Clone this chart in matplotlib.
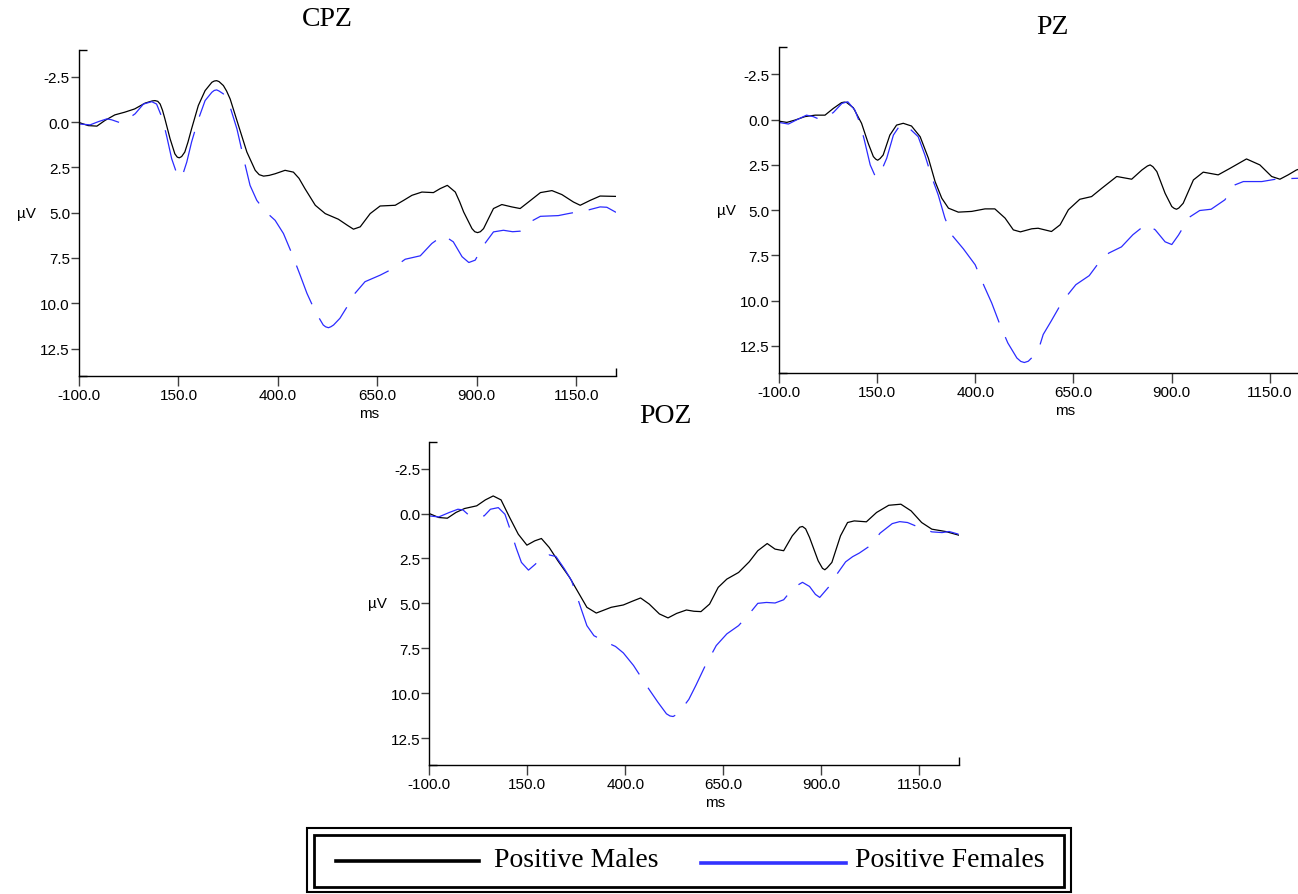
import matplotlib
matplotlib.use("Agg")
import matplotlib.pyplot as plt
from matplotlib.patches import Rectangle
from matplotlib.lines import Line2D
from matplotlib.ticker import FormatStrFormatter

# ---------------- ERP grand averages (ms, µV; negative plotted up) ----------------
cpz_male_ms = [-100, -77, -55, -35, -10, 15, 40, 66, 84, 91, 98, 104, 110, 116, 129, 141, 147,
               152, 158, 166, 174, 183, 200, 217, 234, 240, 246, 252, 263, 271, 280, 301, 322,
               343, 353, 364, 378, 393, 418, 439, 453, 468, 494, 519, 552, 575, 590, 607, 632,
               657, 695, 716, 737, 762, 791, 808, 826, 846, 857, 867, 888, 895, 902, 909, 917,
               930, 942, 963, 988, 1009, 1030, 1060, 1089, 1114, 1143, 1160, 1185, 1210, 1250]
cpz_male_uv = [0.02, 0.19, 0.22, -0.09, -0.40, -0.55, -0.73, -1.05, -1.17, -1.19, -1.15, -1.00,
               -0.65, -0.18, 0.92, 1.75, 1.93, 1.97, 1.90, 1.65, 1.10, 0.37, -0.92, -1.74,
               -2.20, -2.27, -2.29, -2.24, -2.02, -1.72, -1.28, 0.19, 1.65, 2.66, 2.90, 2.98,
               2.94, 2.85, 2.66, 2.76, 3.10, 3.67, 4.59, 5.05, 5.36, 5.70, 5.91, 5.78, 5.05,
               4.63, 4.59, 4.32, 4.04, 3.86, 3.89, 3.67, 3.49, 3.86, 4.40, 4.96, 5.88, 6.05,
               6.10, 6.05, 5.88, 5.30, 4.77, 4.55, 4.68, 4.77, 4.41, 3.89, 3.78, 4.00, 4.41,
               4.59, 4.32, 4.08, 4.10]

cpz_female_ms = [-100, -72, -51, -30, -18, 7, 41, 62, 83, 95, 110, 121, 133, 146, 150, 154,
                 160, 171, 183, 199, 217, 234, 240, 246, 252, 263, 280, 297, 318, 330, 347, 368,
                 393, 414, 435, 456, 473, 494, 514, 520, 527, 533, 540, 556, 582, 590, 619, 657,
                 682, 720, 758, 787, 816, 841, 863, 880, 896, 917, 942, 967, 990, 1009, 1034,
                 1060, 1105, 1130, 1152, 1177, 1210, 1227, 1250]
cpz_female_uv = [0.10, 0.15, -0.03, -0.18, -0.13, 0.06, -0.46, -1.00, -1.13, -1.00, -0.18,
                 0.83, 2.02, 2.85, 3.02, 3.08, 2.95, 2.20, 1.10, -0.09, -1.19, -1.65, -1.75,
                 -1.78, -1.72, -1.56, -0.83, 0.37, 2.39, 3.49, 4.32, 4.92, 5.42, 6.15, 7.25,
                 8.45, 9.45, 10.46, 11.20, 11.30, 11.35, 11.30, 11.20, 10.83, 9.91, 9.55, 8.81,
                 8.45, 8.17, 7.57, 7.38, 6.70, 6.24, 6.61, 7.43, 7.75, 7.62, 6.80, 6.06, 5.97,
                 6.05, 6.02, 5.51, 5.20, 5.16, 5.05, 4.96, 4.87, 4.68, 4.70, 4.98]

pz_male_ms = [-100, -79, -58, -33, -7, 18, 39, 60, 67, 73, 90, 111, 128, 141, 147, 152, 158,
              166, 183, 200, 217, 238, 260, 281, 298, 315, 332, 357, 391, 425, 450, 476, 497,
              515, 544, 560, 594, 616, 637, 666, 696, 722, 760, 798, 824, 838, 845, 852, 862,
              883, 900, 906, 912, 918, 929, 955, 980, 1018, 1048, 1090, 1124, 1154, 1175,
              1196, 1217, 1250]
pz_male_uv = [0.08, 0.15, 0.02, -0.17, -0.25, -0.25, -0.62, -0.94, -0.97, -0.95, -0.66, 0.20,
              1.31, 2.04, 2.18, 2.24, 2.15, 1.95, 0.85, 0.30, 0.20, 0.35, 0.94, 2.13, 3.42,
              4.34, 4.89, 5.11, 5.07, 4.93, 4.93, 5.44, 6.09, 6.20, 6.03, 6.00, 6.18, 5.81,
              4.98, 4.40, 4.25, 3.79, 3.14, 3.29, 2.78, 2.56, 2.50, 2.60, 2.87, 4.07, 4.80,
              4.90, 4.95, 4.88, 4.62, 3.33, 2.90, 3.05, 2.69, 2.17, 2.50, 3.14, 3.29, 3.05,
              2.78, 2.55]

pz_female_ms = [-100, -75, -55, -29, -12, 4, 39, 61, 76, 94, 107, 118, 133, 145, 150, 155,
                175, 192, 209, 222, 255, 272, 289, 306, 323, 340, 370, 400, 423, 442, 463, 483,
                506, 516, 525, 535, 548, 565, 573, 593, 622, 656, 690, 718, 740, 772, 801, 835,
                858, 883, 900, 917, 944, 971, 1000, 1035, 1061, 1082, 1129, 1167, 1218, 1250]
pz_female_uv = [0.15, 0.24, 0.02, -0.25, -0.17, -0.02, -0.39, -0.90, -0.99, -0.53, 0.20,
                1.12, 2.50, 3.09, 3.14, 3.15, 2.13, 0.85, 0.30, 0.26, 0.94, 1.95, 3.14, 4.16,
                5.44, 6.36, 7.14, 8.02, 9.21, 10.13, 11.33, 12.34, 13.17, 13.36, 13.42, 13.35,
                13.07, 12.43, 11.87, 11.14, 10.04, 9.12, 8.62, 7.80, 7.37, 7.03, 6.36, 5.77,
                6.09, 6.75, 6.90, 6.38, 5.40, 5.02, 4.95, 4.43, 3.60, 3.42, 3.42, 3.28, 3.24,
                3.24]

poz_male_ms = [-100, -76, -54, -32, -10, 21, 43, 63, 83, 105, 127, 149, 169, 186, 206, 228,
               258, 280, 302, 326, 364, 395, 417, 439, 461, 487, 509, 531, 556, 575, 593, 615,
               637, 659, 689, 716, 738, 762, 782, 804, 826, 845, 852, 860, 870, 892, 903, 909,
               915, 927, 949, 967, 984, 1015, 1041, 1072, 1103, 1129, 1156, 1182, 1217, 1250]
poz_male_uv = [0.00, 0.22, 0.26, -0.06, -0.28, -0.43, -0.76, -0.98, -0.76, 0.22, 1.15, 1.76,
               1.52, 1.39, 1.89, 2.63, 3.56, 4.39, 5.22, 5.54, 5.22, 5.09, 4.89, 4.70, 5.04,
               5.59, 5.81, 5.56, 5.37, 5.44, 5.46, 5.04, 4.11, 3.65, 3.28, 2.69, 2.07, 1.67,
               1.98, 2.07, 1.24, 0.76, 0.72, 0.85, 1.33, 2.63, 3.05, 3.13, 3.02, 2.72, 1.24,
               0.50, 0.41, 0.46, -0.06, -0.46, -0.52, -0.15, 0.50, 0.87, 1.00, 1.20]

poz_female_ms = [-100, -76, -49, -27, -14, 3, 40, 56, 76, 93, 109, 122, 135, 153, 171, 184,
                 205, 223, 245, 263, 276, 289, 302, 320, 355, 375, 395, 421, 443, 461, 483,
                 505, 514, 522, 530, 544, 562, 580, 602, 632, 659, 689, 716, 738, 760, 782,
                 804, 830, 852, 870, 885, 896, 918, 940, 962, 980, 997, 1024, 1050, 1081, 1100,
                 1120, 1156, 1182, 1208, 1226, 1250]
poz_female_uv = [0.13, 0.19, -0.06, -0.24, -0.20, 0.13, 0.13, -0.24, -0.33, 0.04, 1.06,
                 1.94, 2.72, 3.15, 2.81, 2.44, 2.30, 2.39, 3.09, 3.74, 4.57, 5.41, 6.24, 6.80,
                 7.20, 7.40, 7.76, 8.46, 9.20, 9.80, 10.50, 11.15, 11.27, 11.30, 11.20, 10.87,
                 10.35, 9.57, 8.56, 7.35, 6.70, 6.24, 5.59, 5.00, 4.95, 4.98, 4.80, 4.11, 3.83,
                 4.06, 4.50, 4.67, 4.11, 3.37, 2.69, 2.40, 2.20, 1.80, 1.09, 0.56, 0.45, 0.50,
                 0.83, 1.02, 1.06, 1.00, 1.15]

x_ticks = [-100, 150, 400, 650, 900, 1150]
y_ticks = [-2.5, 0.0, 2.5, 5.0, 7.5, 10.0, 12.5]
x_range = (-100, 1250)
y_range = (-4.0, 14.0)
series_names = ["Positive Males", "Positive Females"]

# ---------------- figure ----------------
W, H, DPI = 1298, 895, 100
plt.rcParams['font.family'] = ['Liberation Sans', 'DejaVu Sans']
plt.rcParams['lines.scale_dashes'] = False
SERIF = ['Liberation Serif', 'DejaVu Serif']
MALE_COLOR = 'black'
FEMALE_COLOR = '#2b2bff'

fig = plt.figure(figsize=(W / DPI, H / DPI), dpi=DPI)


def px_rect(left, top, right, bottom):
    return [left / W, 1 - bottom / H, (right - left) / W, (bottom - top) / H]


panels = [
    ("CPZ", px_rect(79, 50.7, 616, 376.7), (327, 20),
     cpz_male_ms, cpz_male_uv, cpz_female_ms, cpz_female_uv),
    ("PZ", px_rect(778.6, 48.3, 1309.4, 374), (1052, 27),
     pz_male_ms, pz_male_uv, pz_female_ms, pz_female_uv),
    ("POZ", px_rect(429.3, 442.7, 958.5, 766), (665, 417),
     poz_male_ms, poz_male_uv, poz_female_ms, poz_female_uv),
]

for name, rect, (tx, ty), m_ms, m_uv, f_ms, f_uv in panels:
    ax = fig.add_axes(rect)
    ax.plot(m_ms, m_uv, color=MALE_COLOR, lw=0.9, solid_joinstyle='round')
    ax.plot(f_ms, f_uv, color=FEMALE_COLOR, lw=0.9, dashes=(30, 11.5))
    ax.set_xlim(*x_range)
    ax.set_ylim(y_range[1], y_range[0])
    ax.set_xticks(x_ticks)
    ax.set_yticks(y_ticks)
    ax.set_xticks(list(x_range), minor=True)
    ax.set_yticks(list(y_range), minor=True)
    ax.xaxis.set_major_formatter(FormatStrFormatter('%.1f'))
    ax.yaxis.set_major_formatter(FormatStrFormatter('%.1f'))
    ax.tick_params(axis='y', which='major', direction='out', length=5.5, width=1,
                   color='#404040', pad=1, labelsize=11)
    ax.tick_params(axis='x', which='major', direction='out', length=7, width=1,
                   color='#404040', pad=1.5, labelsize=11)
    ax.tick_params(which='minor', direction='in', length=6, width=1, color='black')
    for side in ('top', 'right'):
        ax.spines[side].set_visible(False)
    for side in ('left', 'bottom'):
        ax.spines[side].set_linewidth(1)
        ax.spines[side].set_color('black')
    ax.annotate('ms', xy=(0.54, 0), xycoords='axes fraction', xytext=(0, -26.5),
                textcoords='offset points', ha='center', va='center', fontsize=11)
    ax.annotate('µV', xy=(0, 5.0), xycoords=ax.get_yaxis_transform(), xytext=(-37.5, 0),
                textcoords='offset points', ha='center', va='center', fontsize=11)
    fig.text(tx / W, 1 - ty / H, name, ha='center', va='center', fontsize=20, family=SERIF)

# ---------------- legend box ----------------
def fig_xy(x, y):
    return x / W, 1 - y / H


ox0, oy0 = fig_xy(307, 893)
ox1, oy1 = fig_xy(1071, 829)
fig.add_artist(Rectangle((ox0, oy0), ox1 - ox0, oy1 - oy0, transform=fig.transFigure,
                         fill=False, edgecolor='black', lw=1.5))
ix0, iy0 = fig_xy(314, 888)
ix1, iy1 = fig_xy(1064, 836)
fig.add_artist(Rectangle((ix0, iy0), ix1 - ix0, iy1 - iy0, transform=fig.transFigure,
                         fill=False, edgecolor='black', lw=2))

legend_items = [
    (series_names[0], MALE_COLOR, (336, 479), 862, 494),
    (series_names[1], '#3333ff', (701, 846), 864, 855),
]
for label, color, (lx0, lx1), ly, text_x in legend_items:
    a = fig_xy(lx0, ly)
    b = fig_xy(lx1, ly)
    fig.add_artist(Line2D([a[0], b[0]], [a[1], b[1]], transform=fig.transFigure,
                          color=color, lw=2.6))
    fig.text(text_x / W, 1 - 861 / H, label, ha='left', va='center', fontsize=20,
             family=SERIF)

fig.savefig('out.png', dpi=DPI)
